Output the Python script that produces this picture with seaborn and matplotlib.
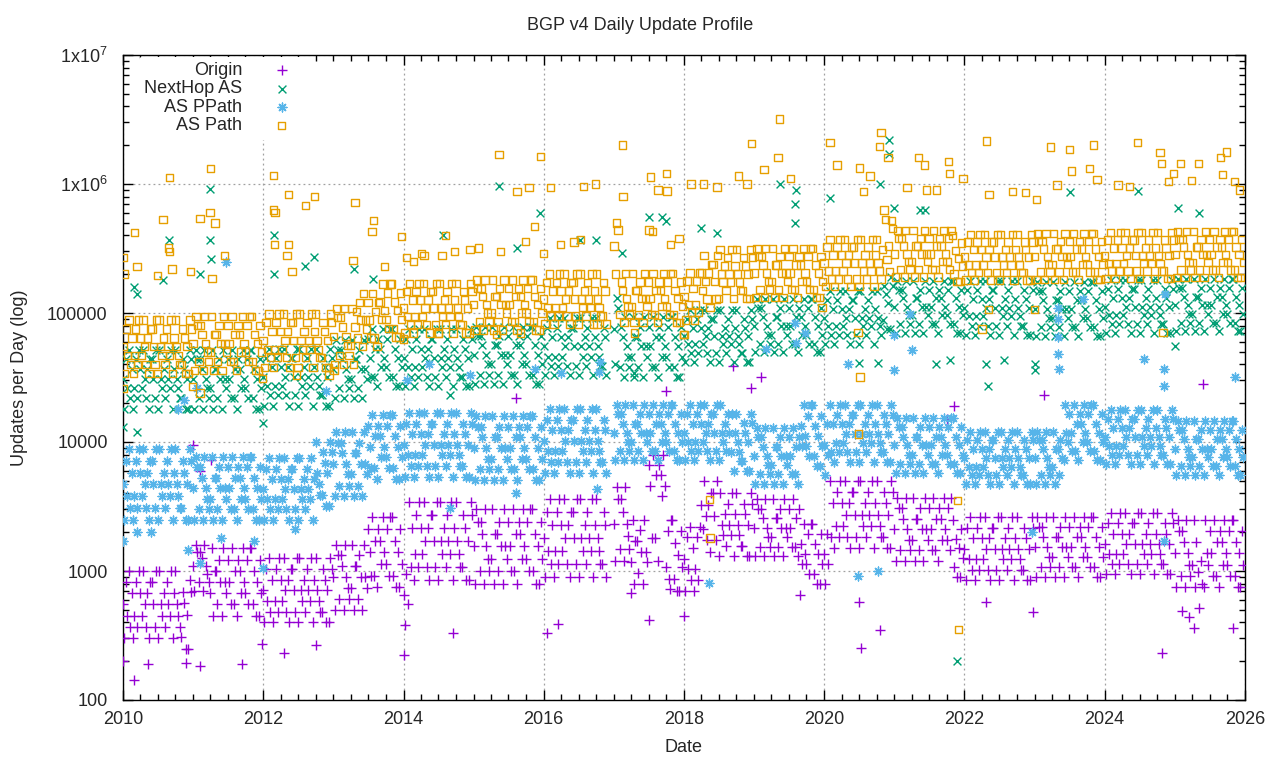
import matplotlib
matplotlib.use('Agg')
import matplotlib.pyplot as plt
import matplotlib.dates as mdates
from matplotlib.ticker import FixedLocator, FixedFormatter, LogLocator, NullFormatter
import pandas as pd
import seaborn as sns

nan = float('nan')

# four daily readings per month (1st, 8th, 16th, 23rd), one row per year 2010..2025
years = list(range(2010, 2026))
sample_days = [1, 8, 16, 23]

# Origin, updates per day
origin_rows = [
    [550, 300, 820, 450, 1000, 370, 670, 300, 450, 820, 370, 1000, 670, 450, 1000, 550, 370, 670, 300, 820, 820, 550, 370, 1000, 300, 1000, 550, 450, 670, 370, 820, 550, 450, 1000, 300, 670, 1000, 550, 450, 370, 310, 690, 560, 250, 460, 250, 850, 690],
    [1100, 700, 1600, 1400, 820, 1400, 1250, 700, 1600, 1100, 950, 820, 670, 1500, 450, 1000, 1000, 550, 1220, 820, 450, 1500, 820, 670, 1220, 820, 550, 1500, 550, 1000, 450, 1220, 1000, 670, 1500, 820, 670, 1220, 550, 1500, 1500, 550, 1000, 450, 820, 450, 1220, 670],
    [710, 400, 1035, 585, 1250, 480, 855, 400, 585, 1035, 480, 1250, 855, 585, 1250, 710, 480, 855, 400, 1035, 1035, 710, 480, 1250, 400, 1250, 710, 585, 855, 480, 1035, 710, 585, 1250, 400, 855, 1250, 710, 585, 480, 480, 1035, 855, 400, 710, 400, 1250, 1035],
    [900, 500, 1600, 1320, 610, 1320, 1090, 500, 1600, 900, 740, 610, 740, 1600, 500, 1090, 1090, 610, 1320, 900, 500, 1600, 900, 740, 2120, 1400, 920, 2600, 920, 1720, 750, 2120, 1720, 1135, 2600, 1400, 1135, 2120, 920, 2600, 2600, 920, 1720, 750, 1400, 750, 2120, 1135],
    [650, 380, 950, 550, 3400, 1070, 2140, 850, 1350, 2700, 1070, 3400, 2140, 1350, 3400, 1700, 1070, 2140, 850, 2700, 2700, 1700, 1070, 3400, 850, 3400, 1700, 1350, 2140, 1070, 2700, 1700, 1350, 3400, 850, 2140, 3400, 1700, 1350, 1070, 1070, 2700, 2140, 850, 1700, 850, 3400, 2700],
    [1550, 800, 3000, 2400, 1000, 2400, 1930, 800, 3000, 1550, 1240, 1000, 1240, 3000, 800, 1930, 1930, 1000, 2400, 1550, 800, 3000, 1550, 1240, 2400, 1550, 1000, 3000, 1000, 1930, 800, 2400, 1930, 1240, 3000, 1550, 1240, 2400, 1000, 3000, 3000, 1000, 1930, 800, 1550, 800, 2400, 1240],
    [1800, 900, 2860, 1430, 3600, 1130, 2270, 900, 1430, 2860, 1130, 3600, 2270, 1430, 3600, 1800, 1130, 2270, 900, 2860, 2860, 1800, 1130, 3600, 900, 3600, 1800, 1430, 2270, 1130, 2860, 1800, 1430, 3600, 900, 2270, 3600, 1800, 1430, 1130, 1130, 2860, 2270, 900, nan, nan, nan, nan],
    [2320, 1200, 4500, 3610, 1490, 3610, 2890, 1200, 4500, 2320, 1860, 1490, 1180, 2500, 800, 1710, 1710, 970, 2070, 1410, 800, 2500, 1410, 1180, 6600, 4600, 1800, 8000, 1800, 5500, 1200, 6600, 5500, 3800, 8000, 4600, 1070, 2030, 870, 2500, 2500, 870, 1640, 700, 1330, 700, 2030, 1070],
    [1240, 700, 1820, 1030, 2200, 850, 1500, 700, 1030, 1820, 850, 2200, 3270, 2130, 5000, 2650, 1730, 3270, 1400, 4050, 4050, 2650, 1730, 5000, 1300, 4000, 2280, 1900, 2760, 1570, 3320, 2280, 1900, 4000, 1300, 2760, 4000, 2280, 1900, 1570, 1570, 3320, 2760, 1300, 2280, 1300, 4000, 3320],
    [2160, 1300, 3600, 3040, 1540, 3040, 2560, 1300, 3600, 2160, 1830, 1540, 1830, 3600, 1300, 2560, 2560, 1540, 3040, 2160, 1300, 3600, 2160, 1830, 3040, 2160, 1540, 3600, 1540, 2560, 1300, 3040, 1620, 1140, 2300, 1360, 1140, 1930, 950, 2300, 2300, 950, 1620, 800, 1360, 800, 1930, 1140],
    [1360, 800, 1930, 1140, 5000, 1830, 3340, 1500, 2230, 4090, 1830, 5000, 3340, 2230, 5000, 2740, 1830, 3340, 1500, 4090, 4090, 2740, 1830, 5000, 1500, 5000, 2740, 2230, 3340, 1830, 4090, 2740, 2230, 5000, 1500, 3340, 5000, 2740, 2230, 1830, 1830, 4090, 3340, 1500, 2740, 1500, 5000, 4090],
    [2110, 1200, 3700, 3070, 1450, 3070, 2540, 1200, 3700, 2110, 1750, 1450, 1750, 3700, 1200, 2540, 2540, 1450, 3070, 2110, 1200, 3700, 2110, 1750, 3070, 2110, 1450, 3700, 1450, 2540, 1200, 3070, 2540, 1750, 3700, 2110, 1750, 3070, 1450, 3700, 2500, 1070, 1780, 900, 1500, 900, 2110, 1270],
    [1490, 850, 2160, 1240, 2600, 1020, 1800, 850, 1240, 2160, 1020, 2600, 1800, 1240, 2600, 1490, 1020, 1800, 850, 2160, 2160, 1490, 1020, 2600, 850, 2600, 1490, 1240, 1800, 1020, 2160, 1490, 1240, 2600, 850, 1800, 2600, 1490, 1240, 1020, 1020, 2160, 1800, 850, 1490, 850, 2600, 2160],
    [1540, 900, 2600, 2200, 1080, 2200, 1840, 900, 2600, 1540, 1290, 1080, 1290, 2600, 900, 1840, 1840, 1080, 2200, 1540, 900, 2600, 1540, 1290, 2200, 1540, 1080, 2600, 1080, 1840, 900, 2200, 1840, 1290, 2600, 1540, 1290, 2200, 1080, 2600, 2600, 1080, 1840, 900, 1540, 900, 2200, 1290],
    [1630, 950, 2340, 1360, 2800, 1140, 1950, 950, 1360, 2340, 1140, 2800, 1950, 1360, 2800, 1630, 1140, 1950, 950, 2340, 2340, 1630, 1140, 2800, 950, 2800, 1630, 1360, 1950, 1140, 2340, 1630, 1360, 2800, 950, 1950, 2800, 1630, 1360, 1140, 1140, 2340, 1950, 950, 1630, 950, 2800, 2340],
    [1370, 750, 2500, 2040, 920, 2040, 1670, 750, 2500, 1370, 1120, 920, 1120, 2500, 750, 1670, 980, 520, 1200, 790, 750, 2500, 1370, 1120, 2040, 1370, 920, 2500, 920, 1670, 750, 2040, 1670, 1120, 2500, 1370, 1120, 2040, 920, 2500, 2500, 920, 1670, 750, 1370, 750, 2040, 1120],
]

# NextHop AS, thousands of updates per day
nexthop_rows_k = [
    [31, 18, 44, 26, 52, 22, 37, 18, 26, 44, 22, 52, 37, 26, 52, 31, 22, 37, 18, 44, 44, 31, 22, 52, 18, 52, 31, 26, 37, 22, 44, 31, 26, 52, 18, 37, 52, 31, 26, 22, 22, 44, 37, 18, 31, 18, 52, 44],
    [31, 18, 52, 44, 22, 44, 37, 18, 52, 31, 26, 22, 26, 52, 18, 37, 37, 22, 44, 31, 18, 52, 31, 26, 44, 31, 22, 52, 22, 37, 18, 44, 37, 26, 52, 31, 26, 44, 22, 52, 52, 22, 37, 18, 31, 18, 44, 26],
    [32, 19, 45, 27, 53, 23, 38, 19, 27, 45, 23, 53, 38, 27, 53, 32, 23, 38, 19, 45, 45, 32, 23, 53, 19, 53, 32, 27, 38, 23, 45, 32, 27, 53, 19, 38, 53, 32, 27, 23, 23, 45, 38, 19, 32, 19, 53, 45],
    [37, 22, 62, 52, 26, 52, 44, 22, 62, 37, 31, 26, 31, 62, 22, 44, 44, 26, 52, 37, 22, 62, 37, 31, 63, 45, 32, 75, 32, 53, 27, 63, 53, 38, 75, 45, 38, 63, 32, 75, 75, 32, 53, 27, 45, 27, 63, 38],
    [45, 27, 63, 38, 75, 32, 53, 27, 38, 63, 32, 75, 53, 38, 75, 45, 32, 53, 27, 63, 63, 45, 32, 75, 27, 75, 45, 38, 53, 32, 63, 45, 38, 75, 27, 53, 75, 45, 38, 32, 32, 63, 53, 27, 45, 27, 75, 63],
    [47, 28, 78, 66, 33, 66, 56, 28, 78, 47, 40, 33, 40, 78, 28, 56, 56, 33, 66, 47, 28, 78, 47, 40, 66, 47, 33, 78, 33, 56, 28, 66, 56, 40, 78, 47, 40, 66, 33, 78, 78, 33, 56, 28, 47, 28, 66, 40],
    [55, 33, 77, 46, 92, 39, 65, 33, 46, 77, 39, 92, 65, 46, 92, 55, 39, 65, 33, 77, 77, 55, 39, 92, 33, 92, 55, 46, 65, 39, 77, 55, 46, 92, 33, 65, 92, 55, 46, 39, 39, 77, 65, 33, nan, nan, nan, nan],
    [75, 40, 130, 110, 38, 78, 65, 32, 93, 55, 46, 38, 46, 93, 32, 65, 65, 38, 78, 55, 32, 93, 55, 46, 78, 55, 38, 93, 38, 65, 32, 78, 65, 46, 93, 55, 46, 78, 38, 93, 93, 38, 65, 32, 55, 32, 78, 46],
    [66, 42, 90, 57, 105, 49, 77, 42, 57, 90, 49, 105, 77, 57, 105, 66, 49, 77, 42, 90, 90, 66, 49, 105, 42, 105, 66, 57, 77, 49, 90, 66, 57, 105, 42, 77, 105, 66, 57, 49, 49, 90, 77, 42, 66, 42, 105, 90],
    [80, 50, 128, 110, 58, 110, 93, 50, 128, 80, 68, 58, 68, 128, 50, 93, 93, 58, 110, 80, 50, 128, 80, 68, 110, 80, 58, 128, 58, 93, 50, 110, 93, 68, 128, 80, 68, 110, 58, 128, 128, 58, 93, 50, 80, 50, 110, 68],
    [92, 58, 126, 79, 147, 68, 108, 58, 79, 126, 68, 147, 108, 79, 147, 92, 68, 108, 58, 126, 126, 92, 68, 147, 58, 147, 92, 79, 108, 68, 126, 92, 79, 147, 58, 108, 147, 92, 79, 68, 88, 163, 140, 75, 120, 75, 190, 163],
    [112, 70, 178, 152, 82, 152, 130, 70, 178, 112, 96, 82, 96, 178, 70, 130, 130, 82, 152, 112, 70, 178, 112, 96, 152, 112, 82, 178, 82, 130, 70, 152, 130, 96, 178, 112, 96, 152, 82, 178, 178, 82, 130, 70, 112, 70, 152, 96],
    [110, 68, 151, 94, 177, 80, 129, 68, 94, 151, 80, 177, 129, 94, 177, 110, 80, 129, 68, 151, 151, 110, 80, 177, 68, 177, 110, 94, 129, 80, 151, 110, 94, 177, 68, 129, 177, 110, 94, 80, 80, 151, 129, 68, 110, 68, 177, 151],
    [108, 66, 175, 149, 78, 149, 127, 66, 175, 108, 92, 78, 92, 175, 66, 127, 127, 78, 149, 108, 66, 175, 108, 92, 149, 108, 78, 175, 78, 127, 66, 149, 127, 92, 175, 108, 92, 149, 78, 175, 175, 78, 127, 66, 108, 66, 149, 92],
    [112, 70, 153, 96, 180, 82, 131, 70, 96, 153, 82, 180, 131, 96, 180, 112, 82, 131, 70, 153, 153, 112, 82, 180, 70, 180, 112, 96, 131, 82, 153, 112, 96, 180, 70, 131, 180, 112, 96, 82, 82, 153, 131, 70, 112, 70, 180, 153],
    [115, 72, 184, 157, 84, 157, 134, 72, 184, 115, 98, 84, 98, 184, 72, 134, 134, 84, 157, 115, 72, 184, 115, 98, 157, 115, 84, 184, 84, 134, 72, 157, 134, 98, 184, 115, 98, 157, 84, 184, 184, 84, 134, 72, 115, 72, 157, 98],
]

# AS PPath, thousands of updates per day
ppath_rows_k = [
    [4.7, 2.5, 7.1, 3.8, 8.8, 3.1, 5.8, 2.5, 3.8, 7.1, 3.1, 8.8, 5.8, 3.8, 8.8, 4.7, 3.1, 5.8, 2.5, 7.1, 7.1, 4.7, 3.1, 8.8, 2.5, 8.8, 4.7, 3.8, 5.8, 3.1, 7.1, 4.7, 3.8, 8.8, 2.5, 5.8, 8.8, 4.7, 3.8, 3.1, 3.1, 7.1, 5.8, 2.5, 4.7, 2.5, 8.8, 7.1],
    [4.4, 2.5, 7.7, 6.4, 3.0, 6.4, 5.3, 2.5, 7.7, 4.4, 3.6, 3.0, 3.6, 7.7, 2.5, 5.3, 5.3, 3.0, 6.4, 4.4, 2.5, 7.7, 4.4, 3.6, 6.4, 4.4, 3.0, 7.7, 3.0, 5.3, 2.5, 6.4, 5.3, 3.6, 7.7, 4.4, 3.6, 6.4, 3.0, 7.7, 7.7, 3.0, 5.3, 2.5, 4.4, 2.5, 6.4, 3.6],
    [4.3, 2.5, 6.2, 3.6, 7.5, 3.0, 5.2, 2.5, 3.6, 6.2, 3.0, 7.5, 5.2, 3.6, 7.5, 4.3, 3.0, 5.2, 2.5, 6.2, 6.2, 4.3, 3.0, 7.5, 2.5, 7.5, 4.3, 3.6, 5.2, 3.0, 6.2, 4.3, 3.6, 7.5, 2.5, 5.2, 10.0, 5.7, 4.7, 3.9, 3.9, 8.3, 6.9, 3.2, 5.7, 3.2, 10.0, 8.3],
    [6.8, 3.8, 12, 9.9, 4.6, 9.9, 8.2, 3.8, 12, 6.8, 5.6, 4.6, 5.6, 12, 3.8, 8.2, 8.2, 4.6, 9.9, 6.8, 3.8, 12, 6.8, 5.6, 13.4, 9.2, 6.3, 16.2, 6.3, 11.1, 5.2, 13.4, 11.1, 7.6, 16.2, 9.2, 7.6, 13.4, 6.3, 16.2, 16.2, 6.3, 11.1, 5.2, 9.2, 5.2, 13.4, 7.6],
    [9.5, 5.4, 13.9, 7.9, 16.8, 6.5, 11.5, 5.4, 7.9, 13.9, 6.5, 16.8, 11.5, 7.9, 16.8, 9.5, 6.5, 11.5, 5.4, 13.9, 13.9, 9.5, 6.5, 16.8, 5.4, 16.8, 9.5, 7.9, 11.5, 6.5, 13.9, 9.5, 7.9, 16.8, 5.4, 11.5, 16.8, 9.5, 7.9, 6.5, 6.5, 13.9, 11.5, 5.4, 9.5, 5.4, 16.8, 13.9],
    [9.0, 5.1, 15.8, 13.1, 6.2, 13.1, 10.9, 5.1, 15.8, 9.0, 7.4, 6.2, 7.4, 15.8, 5.1, 10.9, 10.9, 6.2, 13.1, 9.0, 5.1, 15.8, 9.0, 7.4, 13.1, 9.0, 6.2, 15.8, 6.2, 10.9, 5.1, 13.1, 10.9, 7.4, 15.8, 9.0, 7.4, 13.1, 6.2, 15.8, 15.8, 6.2, 10.9, 5.1, 9.0, 5.1, 13.1, 7.4],
    [10.2, 5.8, 14.9, 8.5, 18, 7.0, 12.3, 5.8, 8.5, 14.9, 7.0, 18, 12.3, 8.5, 18, 10.2, 7.0, 12.3, 5.8, 14.9, 14.9, 10.2, 7.0, 18, 5.8, 18, 10.2, 8.5, 12.3, 7.0, 14.9, 10.2, 8.5, 18, 5.8, 12.3, 18, 10.2, 8.5, 7.0, 7.0, 14.9, 12.3, 5.8, nan, nan, nan, nan],
    [11.8, 7.2, 19.4, 16.4, 8.5, 16.4, 13.9, 7.2, 19.4, 11.8, 10, 8.5, 10, 19.4, 7.2, 13.9, 13.9, 8.5, 16.4, 11.8, 7.2, 19.4, 11.8, 10, 16.4, 11.8, 8.5, 19.4, 8.5, 13.9, 7.2, 16.4, 13.9, 10, 19.4, 11.8, 10, 16.4, 8.5, 19.4, 19.4, 8.5, 13.9, 7.2, 11.8, 7.2, 16.4, 10],
    [11.8, 7.2, 16.4, 10, 19.4, 8.5, 13.9, 7.2, 10, 16.4, 8.5, 19.4, 13.9, 10, 19.4, 11.8, 8.5, 13.9, 7.2, 16.4, 16.4, 11.8, 8.5, 19.4, 7.2, 19.4, 11.8, 10, 13.9, 8.5, 16.4, 11.8, 8.4, 16.5, 6.0, 11.8, 16.5, 10, 8.4, 7.1, 7.1, 14, 11.8, 6.0, 10, 6.0, 16.5, 14],
    [7.8, 4.7, 12.9, 10.9, 5.6, 10.9, 9.2, 4.7, 12.9, 7.8, 6.6, 5.6, 6.6, 12.9, 4.7, 9.2, 9.2, 5.6, 10.9, 7.8, 4.7, 12.9, 7.8, 6.6, 10.9, 7.8, 5.6, 12.9, 5.6, 9.2, 4.7, 10.9, 13.4, 9.3, 19.2, 11.2, 9.3, 16, 7.8, 19.2, 19.2, 7.8, 13.4, 6.5, 11.2, 6.5, 16, 9.3],
    [9.5, 5.5, 13.7, 7.9, 19.2, 8.3, 13.7, 7.0, 9.8, 16.2, 8.3, 19.2, 13.7, 9.8, 19.2, 11.6, 8.3, 13.7, 7.0, 16.2, 16.2, 11.6, 8.3, 19.2, 7.0, 19.2, 11.6, 9.8, 13.7, 8.3, 16.2, 11.6, 9.8, 19.2, 7.0, 13.7, 19.2, 11.6, 9.8, 8.3, 8.3, 16.2, 13.7, 7.0, 11.6, 7.0, 19.2, 16.2],
    [9.4, 5.8, 15.3, 13, 6.8, 13, 11, 5.8, 15.3, 9.4, 8.0, 6.8, 8.0, 15.3, 5.8, 11, 11, 6.8, 13, 9.4, 5.8, 15.3, 9.4, 8.0, 13, 9.4, 6.8, 15.3, 6.8, 11, 5.8, 13, 11, 8.0, 15.3, 9.4, 8.0, 13, 6.8, 15.3, 15.3, 6.8, 11, 5.8, 9.4, 5.8, 13, 8.0],
    [7.5, 4.7, 10.3, 6.4, 12, 5.5, 8.8, 4.7, 6.4, 10.3, 5.5, 12, 8.8, 6.4, 12, 7.5, 5.5, 8.8, 4.7, 10.3, 10.3, 7.5, 5.5, 12, 4.7, 12, 7.5, 6.4, 8.8, 5.5, 10.3, 7.5, 6.4, 12, 4.7, 8.8, 12, 7.5, 6.4, 5.5, 5.5, 10.3, 8.8, 4.7, 7.5, 4.7, 12, 10.3],
    [7.5, 4.7, 12, 10.3, 5.5, 10.3, 8.8, 4.7, 12, 7.5, 6.4, 5.5, 6.4, 12, 4.7, 8.8, 8.8, 5.5, 10.3, 7.5, 7.2, 19.4, 11.8, 10, 16.4, 11.8, 8.5, 19.4, 8.5, 13.9, 7.2, 16.4, 13.9, 10, 19.4, 11.8, 10, 16.4, 8.5, 19.4, 19.4, 8.5, 13.9, 7.2, 11.8, 7.2, 16.4, 10],
    [10.9, 6.7, 15, 9.3, 17.7, 7.9, 12.8, 6.7, 9.3, 15, 7.9, 17.7, 12.8, 9.3, 17.7, 10.9, 7.9, 12.8, 6.7, 15, 15, 10.9, 7.9, 17.7, 6.7, 17.7, 10.9, 9.3, 12.8, 7.9, 15, 10.9, 9.3, 17.7, 6.7, 12.8, 17.7, 10.9, 9.3, 7.9, 7.9, 15, 12.8, 6.7, 10.9, 6.7, 17.7, 15],
    [8.9, 5.5, 14.6, 12.4, 6.5, 12.4, 10.5, 5.5, 14.6, 8.9, 7.6, 6.5, 7.6, 14.6, 5.5, 10.5, 10.5, 6.5, 12.4, 8.9, 5.5, 14.6, 8.9, 7.6, 12.4, 8.9, 6.5, 14.6, 6.5, 10.5, 5.5, 12.4, 10.5, 7.6, 14.6, 8.9, 7.6, 12.4, 6.5, 14.6, 14.6, 6.5, 10.5, 5.5, 8.9, 5.5, 12.4, 7.6],
]

# AS Path, thousands of updates per day
aspath_rows_k = [
    [55, 34, 75, 47, 88, 40, 64, 34, 47, 75, 40, 88, 64, 47, 88, 55, 40, 64, 34, 75, 75, 55, 40, 88, 34, 88, 55, 47, 64, 40, 75, 55, 47, 88, 34, 64, 88, 55, 47, 40, 40, 75, 64, 34, 55, 34, 88, 75],
    [58, 36, 94, 80, 42, 80, 68, 36, 94, 58, 50, 42, 50, 94, 36, 68, 68, 42, 80, 58, 36, 94, 58, 50, 80, 58, 42, 94, 42, 68, 36, 80, 68, 50, 94, 58, 50, 80, 42, 94, 94, 42, 68, 36, 58, 36, 80, 50],
    [61, 38, 84, 52, 98, 45, 72, 38, 52, 84, 45, 98, 72, 52, 98, 61, 45, 72, 38, 84, 84, 61, 45, 98, 38, 98, 61, 52, 72, 45, 84, 61, 52, 98, 38, 72, 98, 61, 52, 45, 45, 84, 72, 38, 61, 38, 98, 84],
    [66, 40, 108, 92, 47, 92, 78, 40, 108, 66, 56, 47, 56, 108, 40, 78, 103, 64, 121, 88, 55, 142, 88, 75, 121, 88, 64, 142, 64, 103, 55, 121, 122, 89, 168, 104, 89, 143, 76, 168, 168, 76, 122, 65, 104, 65, 143, 89],
    [109, 70, 146, 94, 170, 81, 126, 70, 94, 146, 81, 170, 126, 94, 170, 109, 81, 126, 70, 146, 146, 109, 81, 170, 70, 170, 109, 94, 126, 81, 146, 109, 94, 170, 70, 126, 170, 109, 94, 81, 81, 146, 126, 70, 109, 70, 170, 146],
    [116, 74, 180, 155, 86, 155, 134, 74, 180, 116, 100, 86, 100, 180, 74, 134, 134, 86, 155, 116, 74, 180, 116, 100, 155, 116, 86, 180, 86, 134, 74, 155, 134, 100, 180, 116, 100, 155, 86, 180, 180, 86, 134, 74, 116, 74, 155, 100],
    [128, 82, 172, 110, 200, 95, 148, 82, 110, 172, 95, 200, 148, 110, 200, 128, 95, 148, 82, 172, 172, 128, 95, 200, 82, 200, 128, 110, 148, 95, 172, 128, 110, 200, 82, 148, 200, 128, 110, 95, 95, 172, 148, 82, nan, nan, nan, nan],
    [330, 200, 500, 440, 97, 174, 150, 84, 202, 130, 112, 97, 112, 202, 84, 150, 150, 97, 174, 130, 84, 202, 130, 112, 174, 130, 97, 202, 97, 150, 84, 174, 150, 112, 202, 130, 112, 174, 97, 202, 202, 97, 150, 84, 130, 84, 174, 112],
    [134, 88, 177, 116, 204, 101, 154, 88, 116, 177, 101, 204, 204, 150, 278, 175, 128, 204, 110, 238, 238, 175, 128, 278, 130, 310, 201, 174, 232, 150, 268, 201, 174, 310, 130, 232, 310, 201, 174, 150, 150, 268, 232, 130, 201, 130, 310, 268],
    [204, 132, 316, 273, 152, 273, 236, 132, 316, 204, 176, 152, 176, 316, 132, 236, 236, 152, 273, 204, 132, 316, 204, 176, 273, 204, 152, 316, 152, 236, 132, 273, 236, 176, 316, 204, 176, 273, 152, 316, 316, 152, 236, 132, 204, 132, 273, 176],
    [244, 160, 324, 212, 373, 184, 281, 160, 212, 324, 184, 373, 281, 212, 373, 244, 184, 281, 160, 324, 324, 244, 184, 373, 160, 373, 244, 212, 281, 184, 324, 244, 212, 373, 160, 281, 373, 244, 212, 184, 310, 630, 530, 260, 330, 210, 520, 450],
    [287, 190, 435, 379, 218, 379, 330, 190, 435, 287, 250, 218, 250, 435, 190, 330, 330, 218, 379, 287, 190, 435, 287, 250, 379, 287, 218, 435, 218, 330, 190, 379, 330, 250, 435, 287, 250, 379, 218, 435, 400, 201, 304, 175, 265, 175, 349, 231],
    [271, 180, 356, 236, 408, 206, 311, 180, 236, 356, 206, 408, 311, 236, 408, 271, 206, 311, 180, 356, 356, 271, 206, 408, 180, 408, 271, 236, 311, 206, 356, 271, 236, 408, 180, 311, 408, 271, 236, 206, 206, 356, 311, 180, 271, 180, 408, 356],
    [274, 182, 412, 360, 208, 360, 314, 182, 412, 274, 239, 208, 239, 412, 182, 314, 314, 208, 360, 274, 182, 412, 274, 239, 360, 274, 208, 412, 208, 314, 182, 360, 314, 239, 412, 274, 239, 360, 208, 412, 412, 208, 314, 182, 274, 182, 360, 239],
    [279, 185, 367, 243, 420, 212, 320, 185, 243, 367, 212, 420, 320, 243, 420, 279, 212, 320, 185, 367, 367, 279, 212, 420, 185, 420, 279, 243, 320, 212, 367, 279, 243, 420, 185, 320, 420, 279, 243, 212, 212, 367, 320, 185, 279, 185, 420, 367],
    [283, 188, 427, 372, 215, 372, 325, 188, 427, 283, 247, 215, 247, 427, 188, 325, 325, 215, 372, 283, 188, 427, 283, 247, 372, 283, 215, 427, 215, 325, 188, 372, 325, 247, 427, 283, 247, 372, 215, 427, 427, 215, 325, 188, 283, 188, 372, 247],
]

# scattered days away from the main bands: (decimal year, value)
origin_extra = [
    (2010.0, 200), (2010.16, 144), (2010.35, 190), (2010.9, 195), (2011.1, 185), (2011.7, 190),
    (2011.98, 270), (2012.3, 230), (2012.75, 265), (2014.0, 225), (2011.1, 6000), (2011.25, 7300),
    (2011.0, 9500), (2014.7, 333), (2016.05, 333), (2016.2, 390), (2017.5, 420), (2017.25, 680),
    (2017.8, 720), (2017.75, 25000), (2015.6, 22000), (2018.0, 450), (2019.65, 650), (2020.5, 580),
    (2020.8, 350), (2020.52, 255), (2021.85, 19000), (2021.75, 15000), (2019.1, 32000), (2018.95, 26000),
    (2018.7, 39000), (2024.82, 230), (2025.83, 360), (2025.27, 360), (2025.4, 28000), (2023.13, 23000),
    (2022.98, 480), (2022.3, 580), (2025.1, 490), (2025.2, 440),
]
nexthop_extra_k = [
    (2011.24, 920), (2011.24, 370), (2010.66, 370), (2011.26, 260), (2012.15, 400), (2012.15, 200),
    (2012.73, 270), (2012.6, 230), (2010.16, 160), (2010.2, 140), (2011.1, 200), (2010.57, 180),
    (2013.56, 185), (2013.3, 220), (2012.0, 14), (2010.2, 12), (2010.0, 13), (2015.36, 960),
    (2015.95, 600), (2015.62, 320), (2014.57, 400), (2016.52, 370), (2016.74, 370), (2017.12, 290),
    (2017.5, 550), (2017.69, 550), (2017.74, 520), (2014.67, 23), (2017.29, 34), (2019.37, 1000),
    (2019.59, 500), (2019.59, 700), (2019.6, 900), (2020.08, 780), (2020.93, 2200), (2020.93, 1700),
    (2020.8, 1000), (2021.0, 650), (2021.37, 630), (2021.43, 630), (2021.6, 40), (2021.8, 43),
    (2020.5, 41), (2020.77, 41), (2021.89, 0.2), (2018.47, 420), (2018.24, 460), (2023.5, 860),
    (2024.48, 880), (2025.34, 600), (2025.05, 650), (2022.3, 40), (2022.56, 43), (2023.0, 40),
    (2023.01, 36), (2025.0, 55), (2022.33, 27),
]
ppath_extra_k = [
    (2011.47, 250), (2010.0, 1.7), (2010.2, 2.0), (2010.4, 2.0), (2010.92, 1.45), (2011.1, 1.15),
    (2011.4, 1.8), (2011.87, 1.7), (2012.0, 1.05), (2012.45, 2.1), (2010.78, 18), (2011.06, 26),
    (2010.87, 21), (2012.9, 25), (2014.36, 40), (2015.88, 37), (2016.24, 34), (2016.79, 35),
    (2016.8, 42), (2014.95, 33), (2014.05, 30), (2014.67, 3.1), (2016.76, 4.3), (2015.6, 4.0),
    (2019.59, 84), (2019.6, 59), (2019.73, 70), (2021.22, 98), (2021.0, 67), (2019.17, 53),
    (2021.25, 52), (2020.48, 0.92), (2020.76, 1.0), (2018.36, 0.81), (2020.34, 40), (2020.99, 36),
    (2023.33, 110), (2023.33, 90), (2023.34, 65), (2023.34, 48), (2023.35, 37), (2023.69, 128),
    (2024.86, 140), (2024.56, 44), (2024.84, 37), (2024.85, 27), (2025.86, 32), (2024.85, 1.7),
    (2022.96, 2.0),
]
aspath_extra_k = [
    (2010.66, 1120), (2011.25, 1320), (2012.15, 1170), (2012.36, 830), (2012.73, 800), (2012.6, 680),
    (2013.31, 720), (2010.16, 420), (2010.57, 530), (2011.1, 540), (2011.24, 600), (2011.31, 500),
    (2012.15, 630), (2012.17, 600), (2013.57, 520), (2013.55, 430), (2010.65, 320), (2010.66, 300),
    (2010.2, 230), (2010.7, 220), (2010.01, 270), (2010.02, 200), (2010.49, 195), (2010.96, 210),
    (2011.27, 185), (2011.45, 280), (2012.16, 340), (2012.36, 340), (2012.34, 280), (2012.41, 210),
    (2013.28, 255), (2013.73, 230), (2013.97, 390), (2014.04, 270), (2011.1, 24), (2010.99, 27),
    (2010.0, 26), (2011.99, 31), (2012.47, 33), (2013.01, 36), (2012.94, 33),
    (2015.36, 1700), (2015.95, 1640), (2017.12, 2000), (2015.62, 870), (2015.79, 940), (2016.1, 940),
    (2016.57, 960), (2016.74, 1000), (2017.13, 800), (2017.52, 1130), (2017.63, 900), (2017.75, 1200),
    (2017.76, 880), (2017.5, 440), (2015.87, 470), (2014.6, 400), (2014.29, 280), (2014.14, 250),
    (2014.55, 280), (2014.73, 300), (2014.26, 290), (2014.95, 310), (2015.07, 320), (2015.38, 300),
    (2015.74, 360), (2016.0, 290), (2016.24, 340), (2016.43, 355), (2016.52, 370), (2017.55, 430),
    (2017.81, 340), (2017.93, 380), (2014.49, 69), (2015.33, 68), (2015.67, 70), (2016.76, 82),
    (2017.29, 70), (2017.99, 68), (2014.0, 63),
    (2019.36, 3200), (2018.96, 2070), (2019.34, 1600), (2020.08, 2100), (2020.81, 2500), (2020.79, 1960),
    (2019.14, 1300), (2018.78, 1150), (2018.1, 1000), (2018.28, 1000), (2018.47, 950), (2018.9, 1000),
    (2019.52, 1100), (2020.18, 1400), (2020.5, 1330), (2020.65, 1150), (2020.91, 1600), (2021.34, 1600),
    (2021.43, 1400), (2021.77, 1500), (2021.79, 1200), (2021.98, 1100), (2020.56, 870), (2021.18, 940),
    (2021.46, 900), (2021.6, 900), (2020.48, 71), (2020.51, 32), (2020.49, 11.5), (2021.9, 3.5),
    (2021.91, 0.35), (2018.36, 3.6), (2018.37, 1.8), (2019.97, 110), (2018.0, 68),
    (2022.31, 2160), (2023.23, 1930), (2023.5, 1850), (2023.84, 2000), (2024.47, 2100), (2024.79, 1750),
    (2024.81, 1440), (2025.08, 1440), (2025.34, 1440), (2025.65, 1600), (2025.74, 1770), (2023.53, 1260),
    (2023.78, 1320), (2023.89, 1080), (2024.19, 980), (2024.35, 960), (2024.91, 1050), (2024.98, 1200),
    (2025.24, 1070), (2025.68, 1180), (2025.85, 1050), (2025.92, 900), (2023.32, 980), (2022.35, 830),
    (2022.68, 870), (2022.87, 860), (2023.03, 760), (2022.34, 106), (2023.0, 106), (2022.25, 75),
    (2024.83, 71),
]


def series_frame(rows, extra, scale):
    dates, vals = [], []
    for year, row in zip(years, rows):
        for i, v in enumerate(row):
            dates.append(pd.Timestamp(year, i // 4 + 1, sample_days[i % 4]))
            vals.append(v * scale)
    for y, v in extra:
        dates.append(pd.Timestamp('2010-01-01') + pd.to_timedelta((y - 2010) * 365.25, unit='D'))
        vals.append(v * scale)
    return pd.DataFrame({'date': dates, 'value': vals}).dropna()


sns.set_style('ticks')
plt.rcParams['font.family'] = ['Liberation Sans', 'DejaVu Sans']
plt.rcParams['mathtext.fontset'] = 'custom'
plt.rcParams['mathtext.rm'] = 'Liberation Sans'
plt.rcParams['font.size'] = 13

fig = plt.figure(figsize=(12.8, 7.6), dpi=100)
ax = fig.add_axes([123 / 1280, 60 / 760, 1122 / 1280, 645 / 760])

layers = [
    ('Origin', origin_rows, origin_extra, 1, '#9400d3', '+', 42),
    ('NextHop AS', nexthop_rows_k, nexthop_extra_k, 1000, '#009e73', 'x', 32),
    ('AS PPath', ppath_rows_k, ppath_extra_k, 1000, '#56b4e9', (8, 2, 0), 40),
    ('AS Path', aspath_rows_k, aspath_extra_k, 1000, '#e69f00', 's', 28),
]

for z, (name, rows, extra, scale, col, mk, size) in enumerate(layers):
    df = series_frame(rows, extra, scale)
    kw = dict(color=col, marker=mk, s=size, linewidth=1.0, label=name, zorder=3 + z)
    if mk == 's':
        kw['facecolors'] = 'none'
        kw['edgecolor'] = col
    sns.scatterplot(data=df, x='date', y='value', ax=ax, **kw)

ax.set_yscale('log')
ax.set_ylim(100, 1e7)
ax.set_xlim(pd.Timestamp('2010-01-01'), pd.Timestamp('2026-01-01'))

ax.yaxis.set_major_locator(FixedLocator([1e2, 1e3, 1e4, 1e5, 1e6, 1e7]))
ax.yaxis.set_major_formatter(FixedFormatter(['100', '1000', '10000', '100000',
                                             r'1x10$^{6}$', r'1x10$^{7}$']))
ax.yaxis.set_minor_locator(LogLocator(base=10, subs=range(2, 10)))
ax.yaxis.set_minor_formatter(NullFormatter())
ax.xaxis.set_major_locator(mdates.YearLocator(2))
ax.xaxis.set_major_formatter(mdates.DateFormatter('%Y'))
ax.xaxis.set_minor_locator(mdates.MonthLocator([1, 4, 7, 10]))

ax.tick_params(which='both', direction='in', top=True, right=True, labelsize=13, color='black')
ax.tick_params(which='major', length=7, width=1)
ax.tick_params(axis='x', which='major', pad=8)
ax.tick_params(axis='y', which='major', pad=11)
ax.tick_params(which='minor', length=4, width=1)
for sp in ax.spines.values():
    sp.set_color('black')
    sp.set_linewidth(1)

ax.grid(True, which='major', color='#a0a0a0', linestyle=(0, (1.5, 2.5)), linewidth=0.9)
ax.set_axisbelow(True)

ax.set_xlabel('Date', fontsize=13)
ax.set_ylabel('Updates per Day (log)', fontsize=13)
ax.xaxis.set_label_coords(0.5, -0.061)
ax.yaxis.set_label_coords(-0.085, 0.5)
fig.text(0.5, 1 - 25 / 760, 'BGP v4 Daily Update Profile', ha='center', va='center', fontsize=13)

leg = ax.legend(loc='upper left', bbox_to_anchor=(0.009, 1.006), markerfirst=False, fontsize=13,
                frameon=True, framealpha=1, edgecolor='none', facecolor='white',
                labelspacing=0.08, handletextpad=1.2, borderpad=0.3, borderaxespad=0.3,
                scatterpoints=1)
leg.set_zorder(10)

fig.savefig('out.png', dpi=100)
